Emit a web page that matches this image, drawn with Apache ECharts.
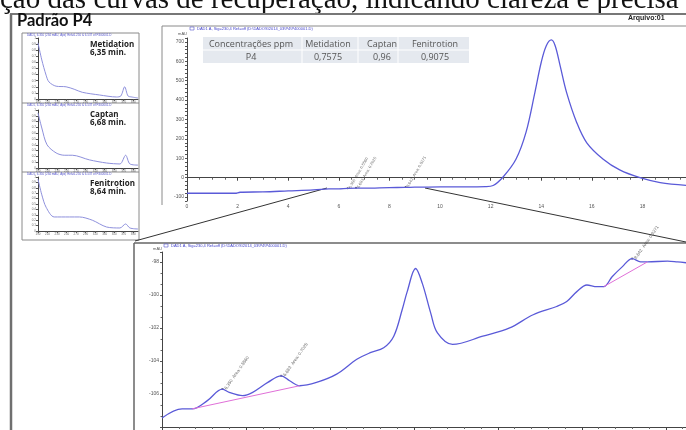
<!DOCTYPE html>
<html>
<head>
<meta charset="utf-8">
<script src="https://cdn.jsdelivr.net/npm/echarts@6/dist/echarts.min.js"></script>
<style>
  html, body { margin: 0; padding: 0; background: #fff; }
  #chart { width: 686px; height: 430px; }
</style>
</head>
<body>
<div id="chart"></div>
<script>
// full chromatogram (min, mAU)
const mainTime = [0, 1, 1.9, 2.1, 3, 4, 5, 5.6, 6, 6.35, 6.7, 7, 8, 8.6, 9, 10, 11, 11.8, 12.1, 12.5, 13, 13.4, 13.75, 14, 14.2, 14.4, 14.55, 14.75, 15, 15.4, 15.8, 16.45, 17.1, 17.9, 18.7, 19.8];
const mainSignal = [-80, -80, -80, -75, -73, -68, -63, -58, -57, -55, -54, -54, -51, -50, -49, -47, -47, -46, -40, 5, 95, 235, 440, 595, 680, 710, 680, 575, 440, 285, 180, 95, 40, 0, -25, -40];

// zoomed region 6.0 - 9.1 min
const zoomTime = [6.00, 6.12, 6.18, 6.27, 6.36, 6.40, 6.48, 6.54, 6.63, 6.71, 6.76, 6.82, 6.92, 7.04, 7.16, 7.24, 7.32, 7.38, 7.43, 7.46, 7.51, 7.55, 7.60, 7.64, 7.73, 7.91, 8.07, 8.21, 8.35, 8.41, 8.47, 8.53, 8.59, 8.63, 8.68, 8.74, 8.80, 8.85, 8.89, 9.01, 9.07, 9.12];
const zoomSignal = [-107.45, -106.9, -106.9, -106.4, -105.7, -105.9, -106.1, -105.9, -105.3, -104.9, -105.2, -105.5, -105.3, -104.8, -103.9, -103.5, -103.2, -102.5, -100.9, -99.8, -98.4, -99.3, -101.1, -102.3, -103.0, -102.5, -102.0, -101.2, -100.7, -100.4, -99.8, -99.4, -99.5, -99.5, -98.9, -98.3, -97.8, -98.0, -98.0, -97.95, -98.0, -98.05];

// integration baselines in the zoom
const baselineA = [[6.18, -106.9], [6.82, -105.5]];
const baselineB = [[8.63, -99.5], [8.89, -98.0]];

// peaks
const peakNames = ['Metidation', 'Captan', 'Fenitrotion'];
const peakTimes = [6.35, 6.68, 8.64];
const peakLabelsMain = ['6.350', '6.683', '8.642'];
const peakAreas = ['Area: 0.5560', 'Area: 0.7025', 'Area: 0.9271'];
const peakMainSignal = [-54, -52, -48];
const peakZoomTimes = [6.36, 6.71, 8.80];
const peakZoomSignal = [-105.7, -104.9, -97.8];

// UV spectra of each peak (nm, relative)
const specNm1 = [190, 198, 207, 213, 228, 249, 266, 283, 319, 355, 364, 372, 379, 387, 400];
const specVal1 = [0.92, 0.64, 0.39, 0.28, 0.21, 0.20, 0.16, 0.11, 0.066, 0.033, 0.05, 0.20, 0.05, 0.033, 0.016];
const specNm2 = [190, 198, 209, 228, 245, 262, 298, 334, 362, 374, 383, 400];
const specVal2 = [0.95, 0.69, 0.40, 0.26, 0.22, 0.22, 0.14, 0.086, 0.07, 0.22, 0.07, 0.05];
const specNm3 = [190, 198, 207, 224, 256, 277, 304, 334, 362, 374, 383, 400];
const specVal3 = [0.96, 0.67, 0.44, 0.26, 0.26, 0.26, 0.20, 0.074, 0.056, 0.13, 0.056, 0.037];
const specTimes = ['6,35 min.', '6,68 min.', '8,64 min.'];

// concentration table
const tableHeader = ['Concentrações ppm', 'Metidation', 'Captan', 'Fenitrotion'];
const tableRow = ['P4', '0,7575', '0,96', '0,9075'];

const zip = (xs, ys) => xs.map((x, i) => [x, ys[i]]);

const chart = echarts.init(document.getElementById('chart'), null, { renderer: 'canvas' });

const blue = '#5a5ad8';
const specColor = '#8e90dc';
const tinyLabel = { fontSize: 5, color: '#555', margin: 3 };
const axisLine = { lineStyle: { color: '#444', width: 1 } };

function specAxes(gridIndex) {
  return {
    x: {
      type: 'value', gridIndex, min: 190, max: 400, interval: 20,
      axisLine, axisTick: { length: 2, lineStyle: { color: '#555' } },
      axisLabel: { fontSize: 3, color: '#666', margin: 2 }, splitLine: { show: false }
    },
    y: {
      type: 'value', gridIndex, min: 0, max: 1, interval: 0.1,
      axisLine, axisTick: { length: 2, lineStyle: { color: '#555' } },
      axisLabel: { fontSize: 3, color: '#666', margin: 2 }, splitLine: { show: false }
    }
  };
}
const s1 = specAxes(2), s2 = specAxes(3), s3 = specAxes(4);

// table graphics
const colCenters = [251, 328, 382, 435];
const tableGraphics = [
  { type: 'rect', shape: { x: 203, y: 37, width: 266, height: 26 }, style: { fill: '#e5e9ef' } },
  { type: 'line', shape: { x1: 203, y1: 50, x2: 469, y2: 50 }, style: { stroke: '#ffffff', lineWidth: 1 } }
];
[302, 358, 398].forEach(x => tableGraphics.push({
  type: 'line', shape: { x1: x, y1: 37, x2: x, y2: 63 }, style: { stroke: '#ffffff', lineWidth: 1 }
}));
tableHeader.forEach((t, i) => tableGraphics.push({
  type: 'text', style: { text: t, x: colCenters[i], y: 44, textAlign: 'center', textVerticalAlign: 'middle', font: '9px "Open Sans"', fill: '#555' }
}));
tableRow.forEach((t, i) => tableGraphics.push({
  type: 'text', style: { text: t, x: colCenters[i], y: 57, textAlign: 'center', textVerticalAlign: 'middle', font: '9px "Open Sans"', fill: '#555' }
}));

// spectra panel titles
const panelTops = [33, 103, 172];
const panelGraphics = [];
peakNames.forEach((n, i) => {
  panelGraphics.push({
    type: 'text', style: { text: n, x: 90, y: panelTops[i] + 12, font: 'bold 8px "Open Sans"', fill: '#222', textVerticalAlign: 'middle' }
  });
  panelGraphics.push({
    type: 'text', style: { text: specTimes[i], x: 90, y: panelTops[i] + 20, font: 'bold 8px "Open Sans"', fill: '#222', textVerticalAlign: 'middle' }
  });
  panelGraphics.push({
    type: 'text', style: { text: 'DAD1, 6.350 (234 mAU, Apx) Ref=6.250 & 6.537 of P400001.D', x: 27, y: panelTops[i] + 2.5, font: '3px sans-serif', fill: '#5555cc', textVerticalAlign: 'middle' }
  });
});

const noBounds = { outerBoundsMode: 'none', containLabel: false };

const option = {
  animation: false,
  backgroundColor: '#ffffff',
  grid: [
    { left: 187, top: 38, width: 501, height: 163, ...noBounds },
    { left: 162, top: 252, width: 524, height: 175, ...noBounds },
    { left: 38, top: 38, width: 100, height: 61, ...noBounds },
    { left: 38, top: 110, width: 100, height: 58, ...noBounds },
    { left: 38, top: 177, width: 100, height: 54, ...noBounds }
  ],
  xAxis: [
    {
      type: 'value', gridIndex: 0, min: 0, max: 19.8, interval: 2,
      axisLine, axisTick: { length: 3, lineStyle: { color: '#444' } },
      minorTick: { show: true, splitNumber: 4, length: 2, lineStyle: { color: '#666' } },
      axisLabel: { ...tinyLabel, showMaxLabel: false }, splitLine: { show: false }
    },
    {
      type: 'value', gridIndex: 1, min: 6, max: 9.12, interval: 0.5,
      axisLine, axisTick: { length: 3, lineStyle: { color: '#444' } },
      minorTick: { show: true, splitNumber: 5, length: 2, lineStyle: { color: '#666' } },
      axisLabel: { ...tinyLabel, margin: 4 }, splitLine: { show: false }
    },
    s1.x, s2.x, s3.x
  ],
  yAxis: [
    {
      type: 'value', gridIndex: 0, min: -120, max: 720, interval: 20,
      name: 'mAU', nameGap: 2, nameTextStyle: { fontSize: 4, color: '#555', align: 'right' },
      axisLine, axisTick: { length: 2, lineStyle: { color: '#555' } },
      axisLabel: { ...tinyLabel, formatter: v => (v % 100 === 0 ? v : '') },
      splitLine: { show: false }
    },
    {
      type: 'value', gridIndex: 1, min: -108, max: -97.4, interval: 2,
      name: 'mAU', nameGap: 1, nameTextStyle: { fontSize: 4, color: '#555', align: 'right' },
      axisLine, axisTick: { length: 2, lineStyle: { color: '#555' } },
      minorTick: { show: true, splitNumber: 3, length: 1.5, lineStyle: { color: '#666' } },
      axisLabel: { ...tinyLabel, showMinLabel: false, showMaxLabel: false },
      splitLine: { show: false }
    },
    s1.y, s2.y, s3.y
  ],
  series: [
    {
      type: 'line', xAxisIndex: 0, yAxisIndex: 0, data: zip(mainTime, mainSignal),
      smooth: 0.35, symbol: 'none', lineStyle: { color: blue, width: 1.3 }
    },
    {
      type: 'scatter', xAxisIndex: 0, yAxisIndex: 0, symbolSize: 2,
      itemStyle: { color: '#333' },
      data: peakTimes.map((t, i) => ({ value: [t, peakMainSignal[i]], name: peakLabelsMain[i] })),
      label: { show: true, formatter: p => p.name + '  ' + peakAreas[p.dataIndex], rotate: 60, fontSize: 4, color: '#444', position: 'right', distance: 1 }
    },
    {
      type: 'line', xAxisIndex: 1, yAxisIndex: 1, data: zip(zoomTime, zoomSignal),
      smooth: 0.35, symbol: 'none', lineStyle: { color: blue, width: 1.3 }
    },
    {
      type: 'line', xAxisIndex: 1, yAxisIndex: 1, data: baselineA,
      symbol: 'none', lineStyle: { color: '#e070d8', width: 1 }
    },
    {
      type: 'line', xAxisIndex: 1, yAxisIndex: 1, data: baselineB,
      symbol: 'none', lineStyle: { color: '#e070d8', width: 1 }
    },
    {
      type: 'scatter', xAxisIndex: 1, yAxisIndex: 1, symbol: 'rect', symbolSize: 2,
      itemStyle: { color: '#555' },
      data: peakZoomTimes.map((t, i) => ({ value: [t, peakZoomSignal[i]], name: peakLabelsMain[i] })),
      label: { show: true, formatter: p => p.name + '  ' + peakAreas[p.dataIndex], rotate: 55, fontSize: 4.5, color: '#444', position: 'right', distance: 2 }
    },
    {
      type: 'line', xAxisIndex: 2, yAxisIndex: 2, data: zip(specNm1, specVal1),
      smooth: 0.3, symbol: 'none', lineStyle: { color: specColor, width: 1 }
    },
    {
      type: 'line', xAxisIndex: 3, yAxisIndex: 3, data: zip(specNm2, specVal2),
      smooth: 0.3, symbol: 'none', lineStyle: { color: specColor, width: 1 }
    },
    {
      type: 'line', xAxisIndex: 4, yAxisIndex: 4, data: zip(specNm3, specVal3),
      smooth: 0.3, symbol: 'none', lineStyle: { color: specColor, width: 1 }
    }
  ],
  graphic: [
    // page heading (cut off at top)
    { type: 'text', style: { text: 'ção das curvas de recuperação, indicando clareza e precisa', x: 0, y: 0, font: '29px "Liberation Serif"', fill: '#111', textVerticalAlign: 'middle' } },
    // outer frame
    { type: 'line', shape: { x1: 10, y1: 14, x2: 686, y2: 14 }, style: { stroke: '#777', lineWidth: 2 } },
    { type: 'line', shape: { x1: 11, y1: 14, x2: 11, y2: 430 }, style: { stroke: '#6f6f6f', lineWidth: 2.5 } },
    { type: 'text', style: { text: 'Padrão P4', x: 17, y: 21, font: 'bold 16.5px "Liberation Sans Narrow", Lato', fill: '#111', textVerticalAlign: 'middle' } },
    { type: 'text', style: { text: 'Arquivo:01', x: 628, y: 18, font: 'bold 7px "Liberation Sans"', fill: '#222', textVerticalAlign: 'middle' } },
    // left spectra panels
    { type: 'rect', shape: { x: 22, y: 33, width: 117, height: 207 }, style: { fill: 'none', stroke: '#8a8a8a', lineWidth: 1 } },
    { type: 'line', shape: { x1: 22, y1: 103, x2: 139, y2: 103 }, style: { stroke: '#8a8a8a', lineWidth: 1 } },
    { type: 'line', shape: { x1: 22, y1: 172, x2: 139, y2: 172 }, style: { stroke: '#8a8a8a', lineWidth: 1 } },
    ...panelGraphics,
    // main chromatogram frame
    { type: 'line', shape: { x1: 162, y1: 26, x2: 686, y2: 26 }, style: { stroke: '#8a8a8a', lineWidth: 1 } },
    { type: 'line', shape: { x1: 162, y1: 26, x2: 162, y2: 205 }, style: { stroke: '#8a8a8a', lineWidth: 1 } },
    { type: 'rect', shape: { x: 190, y: 27, width: 4, height: 3 }, style: { fill: 'none', stroke: '#5555cc', lineWidth: 0.6 } },
    { type: 'text', style: { text: 'DAD1 A, Sig=230,4 Ref=off (D:\\DADOS\\2014_03\\P4\\P400001.D)', x: 197, y: 28.5, font: '4px sans-serif', fill: '#4444cc', textVerticalAlign: 'middle' } },
    ...tableGraphics,
    // zoom frame
    { type: 'line', shape: { x1: 134, y1: 243, x2: 686, y2: 243 }, style: { stroke: '#666', lineWidth: 1.5 } },
    { type: 'line', shape: { x1: 134, y1: 243, x2: 134, y2: 430 }, style: { stroke: '#666', lineWidth: 1.5 } },
    { type: 'rect', shape: { x: 164, y: 244, width: 4, height: 3 }, style: { fill: 'none', stroke: '#5555cc', lineWidth: 0.6 } },
    { type: 'text', style: { text: 'DAD1 A, Sig=230,4 Ref=off (D:\\DADOS\\2014_03\\P4\\P400001.D)', x: 171, y: 245.5, font: '4px sans-serif', fill: '#4444cc', textVerticalAlign: 'middle' } },
    // zoom guide lines
    { type: 'line', shape: { x1: 327, y1: 188, x2: 135, y2: 241 }, style: { stroke: '#333', lineWidth: 1 } },
    { type: 'line', shape: { x1: 425, y1: 188, x2: 686, y2: 242 }, style: { stroke: '#333', lineWidth: 1 } }
  ]
};

chart.setOption(option);
window.addEventListener('resize', () => chart.resize());
</script>
</body>
</html>
